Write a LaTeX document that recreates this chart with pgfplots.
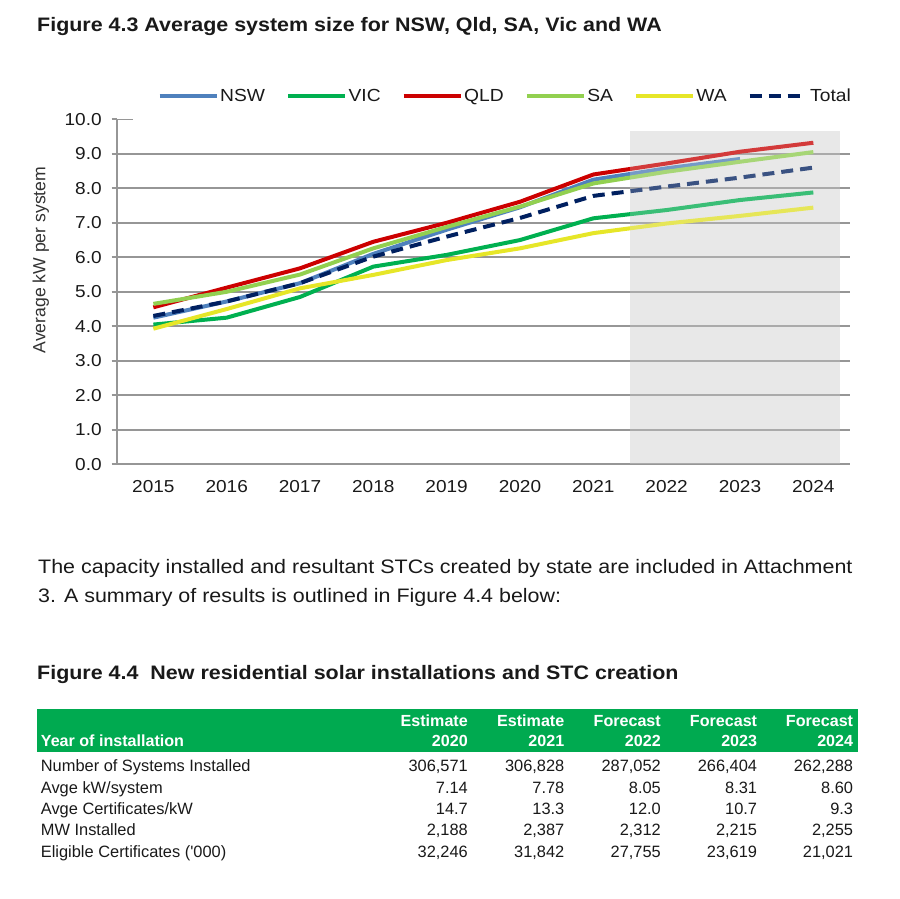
\documentclass[border=0pt]{standalone}
\usepackage{fontspec}
\setmainfont{Liberation Sans}[FakeStretch=1.1]
\newfontfamily\plainfont{Liberation Sans}
\usepackage{pgfplots}
\pgfplotsset{compat=1.18}
\definecolor{nsw}{RGB}{79,129,189}
\definecolor{vic}{RGB}{0,176,80}
\definecolor{qld}{RGB}{204,0,0}
\definecolor{sa}{RGB}{146,208,80}
\definecolor{wa}{RGB}{230,230,40}
\definecolor{tot}{RGB}{0,32,96}
\definecolor{gridc}{RGB}{150,150,150}
\definecolor{shadec}{RGB}{232,232,232}
\definecolor{tblgreen}{RGB}{0,170,80}
\definecolor{txt}{RGB}{25,25,25}
\newcommand{\fs}[1]{\fontsize{#1}{#1}\selectfont}
\begin{document}
\begin{tikzpicture}
\path (0pt,0pt) rectangle (900pt,898pt);
\begin{scope}[x=1pt,y=1pt,every node/.style={inner sep=0pt, text=txt}]
\node[anchor=base west, font=\fs{19.5}\bfseries] at (37,866.3) {Figure 4.3 Average system size for NSW, Qld, SA, Vic and WA};
\node[rotate=90, font=\plainfont\fs{17.6}, text={rgb,255:red,50;green,50;blue,50}] at (40.7,638) {Average kW per system};
\node[anchor=base west, font=\fs{19.5}] at (38,324) {The capacity installed and resultant STCs created by state are included in Attachment};
\node[anchor=base west, font=\fs{19.5}] at (38,295) {3. A summary of results is outlined in Figure 4.4 below:};
\node[anchor=base west, font=\fs{19.5}\bfseries] at (37,218.7) {Figure 4.4\ \ New residential solar installations and STC creation};
\fill[tblgreen] (37.3,146) rectangle (857.7,188.7);
\begin{scope}[every node/.style={inner sep=0pt, text=white, font=\plainfont\fs{16.1}\bfseries}]
\node[anchor=base west] at (40.7,151.3) {Year of installation};
\node[anchor=base east] at (468,172) {Estimate};
\node[anchor=base east] at (564.5,172) {Estimate};
\node[anchor=base east] at (661,172) {Forecast};
\node[anchor=base east] at (757.3,172) {Forecast};
\node[anchor=base east] at (853.3,172) {Forecast};
\node[anchor=base east] at (468,151.3) {2020};
\node[anchor=base east] at (564.5,151.3) {2021};
\node[anchor=base east] at (661,151.3) {2022};
\node[anchor=base east] at (757.3,151.3) {2023};
\node[anchor=base east] at (853.3,151.3) {2024};
\end{scope}
\begin{scope}[every node/.style={inner sep=0pt, text=txt, font=\plainfont\fs{16.4}}]
\node[anchor=base west] at (40.7,126.3) {Number of Systems Installed};
\node[anchor=base west] at (40.7,105) {Avge kW/system};
\node[anchor=base west] at (40.7,84) {Avge Certificates/kW};
\node[anchor=base west] at (40.7,62.5) {MW Installed};
\node[anchor=base west] at (40.7,41) {Eligible Certificates ('000)};
\node[anchor=base east] at (468,126.3) {306,571};
\node[anchor=base east] at (564.5,126.3) {306,828};
\node[anchor=base east] at (661,126.3) {287,052};
\node[anchor=base east] at (757.3,126.3) {266,404};
\node[anchor=base east] at (853.3,126.3) {262,288};
\node[anchor=base east] at (468,105) {7.14};
\node[anchor=base east] at (564.5,105) {7.78};
\node[anchor=base east] at (661,105) {8.05};
\node[anchor=base east] at (757.3,105) {8.31};
\node[anchor=base east] at (853.3,105) {8.60};
\node[anchor=base east] at (468,84) {14.7};
\node[anchor=base east] at (564.5,84) {13.3};
\node[anchor=base east] at (661,84) {12.0};
\node[anchor=base east] at (757.3,84) {10.7};
\node[anchor=base east] at (853.3,84) {9.3};
\node[anchor=base east] at (468,62.5) {2,188};
\node[anchor=base east] at (564.5,62.5) {2,387};
\node[anchor=base east] at (661,62.5) {2,312};
\node[anchor=base east] at (757.3,62.5) {2,215};
\node[anchor=base east] at (853.3,62.5) {2,255};
\node[anchor=base east] at (468,41) {32,246};
\node[anchor=base east] at (564.5,41) {31,842};
\node[anchor=base east] at (661,41) {27,755};
\node[anchor=base east] at (757.3,41) {23,619};
\node[anchor=base east] at (853.3,41) {21,021};
\end{scope}
\end{scope}
\begin{axis}[
  set layers,
  at={(116.7pt,433.7pt)}, anchor=south west,
  scale only axis, width=733.3pt, height=345pt,
  xmin=2014.5, xmax=2024.5, ymin=0, ymax=10,
  axis lines*=left,
  axis line style={gridc, line width=1.6pt},
  every tick/.style={gridc, line width=1.6pt},
  tick align=outside,
  xtick={2015,...,2024},
  xticklabels={2015,2016,2017,2018,2019,2020,2021,2022,2023,2024},
  xtick style={draw=none},
  extra x ticks={2014.5,2015.5,...,2024.5},
  extra x tick labels={},
  extra x tick style={major tick length=5pt, tick style={gridc, line width=1.6pt}},
  ytick={0,...,9},
  extra y ticks={10},
  extra y tick style={grid=none},
  major tick length=5pt,
  ymajorgrids,
  grid style={gridc, line width=1.6pt},
  /pgf/number format/.cd, fixed, fixed zerofill, precision=1, assume math mode=true,
  /pgfplots/.cd,
  tick label style={font=\fs{17.3}, text=txt},
  yticklabel style={xshift=-6.5pt},
  xticklabel style={yshift=-8pt},
  legend columns=6,
  legend style={at={(0.0556,1.0675)}, anchor=west, draw=none, fill=none, inner sep=0pt,
    font=\fs{17.5}, nodes={inner xsep=1.5pt, inner ysep=0pt, text=txt},
    /tikz/every even column/.append style={column sep=19.5pt}},
  legend image code/.code={\draw[#1] (0pt,0pt) -- (57pt,0pt);},
  every axis plot/.append style={line width=4pt},
]
\begin{pgfonlayer}{axis background}
\fill[shadec] (axis cs:2021.5,0) rectangle (axis cs:2024.36,9.67);
\end{pgfonlayer}
\addplot[nsw] coordinates {(2015,4.25) (2016,4.72) (2017,5.25) (2018,6.10) (2019,6.80) (2020,7.45) (2021,8.25) (2022,8.58) (2023,8.85)};
\addlegendentry{NSW}
\addplot[vic] coordinates {(2015,4.05) (2016,4.25) (2017,4.85) (2018,5.73) (2019,6.07) (2020,6.50) (2021,7.13) (2022,7.37) (2023,7.66) (2024,7.88)};
\addlegendentry{VIC}
\addplot[qld] coordinates {(2015,4.55) (2016,5.12) (2017,5.68) (2018,6.45) (2019,7.00) (2020,7.61) (2021,8.40) (2022,8.72) (2023,9.06) (2024,9.32)};
\addlegendentry{QLD}
\addplot[sa] coordinates {(2015,4.65) (2016,5.00) (2017,5.50) (2018,6.26) (2019,6.88) (2020,7.47) (2021,8.14) (2022,8.48) (2023,8.77) (2024,9.05)};
\addlegendentry{SA}
\addplot[wa] coordinates {(2015,3.93) (2016,4.50) (2017,5.10) (2018,5.49) (2019,5.92) (2020,6.26) (2021,6.70) (2022,6.98) (2023,7.20) (2024,7.44)};
\addlegendentry{WA}
\addplot[tot, dash pattern=on 12pt off 7pt] coordinates {(2015,4.30) (2016,4.72) (2017,5.25) (2018,6.02) (2019,6.60) (2020,7.14) (2021,7.78) (2022,8.05) (2023,8.31) (2024,8.60)};
\addlegendentry{Total}
\fill[shadec, fill opacity=0.25] (axis cs:2021.5,0) rectangle (axis cs:2024.36,9.67);
\draw[gridc, line width=1.6pt] (axis cs:2014.5,10) -- ++(16pt,0pt);
\end{axis}
\end{tikzpicture}
\end{document}
